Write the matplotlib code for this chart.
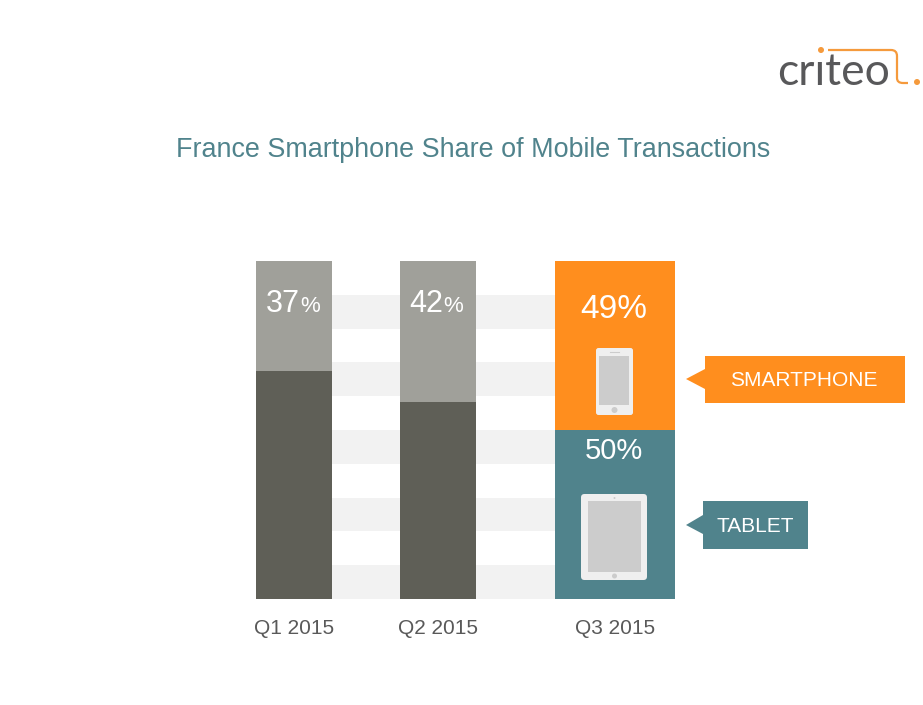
import matplotlib
matplotlib.use("Agg")
import matplotlib.pyplot as plt
from matplotlib.patches import FancyBboxPatch, Rectangle, Polygon, Circle
from matplotlib.path import Path
from matplotlib.patches import PathPatch

plt.rcParams['font.family'] = ['Liberation Sans', 'DejaVu Sans']

title = "France Smartphone Share of Mobile Transactions"
quarters = ["Q1 2015", "Q2 2015", "Q3 2015"]
lower_values = [67.5, 58.3, 50.0]
upper_values = [32.5, 41.7, 50.0]
upper_labels = ["37", "42", "49"]
lower_label_q3 = "50%"
band_starts = [0, 20, 40, 60, 80]
band_height = 10

DARK = "#5F5F57"
LIGHT = "#A0A09A"
ORANGE = "#FF8E1E"
TEAL = "#50838C"
BAND = "#F2F2F2"
DEVICE = "#EFEFEF"
SCREEN = "#CCCCCC"
TEXT = "#595959"

W, H = 923, 705
fig = plt.figure(figsize=(W / 100, H / 100), dpi=100, facecolor="white")

# chart axes: x in px-like units, y in percent
ax = fig.add_axes([256 / W, (H - 599) / H, 419 / W, 338 / H])
ax.set_xlim(256, 675)
ax.set_ylim(0, 100)
centers = [294, 438, 615]
widths = [76, 76, 120]
for s in band_starts:
    ax.barh(s, 419, left=256, height=band_height, align="edge", color=BAND, zorder=1)
lower_colors = [DARK, DARK, TEAL]
upper_colors = [LIGHT, LIGHT, ORANGE]
ax.bar(centers, lower_values, width=widths, color=lower_colors, zorder=2)
ax.bar(centers, upper_values, width=widths, bottom=lower_values, color=upper_colors, zorder=2)
for sp in ax.spines.values():
    sp.set_visible(False)
ax.set_yticks([])
ax.set_xticks(centers)
ax.set_xticklabels(quarters, fontsize=15, color=TEXT)
ax.tick_params(axis="x", length=0, pad=14.5)
ax.patch.set_alpha(0)

# overlay in figure pixels
ov = fig.add_axes([0, 0, 1, 1], zorder=5)
ov.set_xlim(0, W)
ov.set_ylim(H, 0)
ov.axis("off")

ov.text(473, 150, title, ha="center", va="center", fontsize=19.4, color=TEAL)

# percent labels
ov.text(300, 304, upper_labels[0], ha="right", va="center", fontsize=22, color="white")
ov.text(300, 306, "%", ha="left", va="center", fontsize=16, color="white")
ov.text(443, 304, upper_labels[1], ha="right", va="center", fontsize=22, color="white")
ov.text(443, 306, "%", ha="left", va="center", fontsize=16, color="white")
ov.text(614, 309, upper_labels[2] + "%", ha="center", va="center", fontsize=24, color="white")
ov.text(614, 451, lower_label_q3, ha="center", va="center", fontsize=21, color="white")


def rrect(x0, y0, x1, y1, r, color):
    ov.add_patch(FancyBboxPatch((x0 + r, y0 + r), x1 - x0 - 2 * r, y1 - y0 - 2 * r,
                                boxstyle=f"round,pad={r},rounding_size={r}",
                                fc=color, ec="none"))


# phone
rrect(596, 348, 633, 415, 2.5, DEVICE)
ov.add_patch(Rectangle((599, 356), 30, 49, fc=SCREEN, ec="none"))
ov.add_patch(Circle((614.5, 410), 3, fc=SCREEN, ec="none"))
ov.plot([610, 619], [352, 352], color=SCREEN, lw=0.8)

# tablet
rrect(581, 494, 647, 580, 3.5, DEVICE)
ov.add_patch(Rectangle((588, 501), 53, 71, fc=SCREEN, ec="none"))
ov.add_patch(Circle((614.5, 576), 2.5, fc=SCREEN, ec="none"))
ov.add_patch(Circle((614.5, 498), 1, fc=SCREEN, ec="none"))

# callouts
ov.add_patch(Rectangle((705, 356), 200, 47, fc=ORANGE, ec="none"))
ov.add_patch(Polygon([(686, 379), (705, 369), (705, 389)], fc=ORANGE, ec="none"))
ov.text(804, 380.5, "SMARTPHONE", ha="center", va="center", fontsize=15, color="white")
ov.add_patch(Rectangle((703, 501), 105, 48, fc=TEAL, ec="none"))
ov.add_patch(Polygon([(686, 525), (703, 515), (703, 534)], fc=TEAL, ec="none"))
ov.text(755, 526, "TABLET", ha="center", va="center", fontsize=15, color="white")

# logo
LOGO_ORANGE = "#F59A3C"
ov.text(777, 85, "criteo", ha="left", va="baseline", fontsize=32, color="#58585A",
        family="Lato", fontweight="normal")
ov.add_patch(Rectangle((813, 52), 12, 8, fc="white", ec="none", zorder=6))
ov.add_patch(Circle((821, 50), 3, fc=LOGO_ORANGE, ec="none", zorder=7))
ov.add_patch(Circle((917, 82), 3, fc=LOGO_ORANGE, ec="none", zorder=7))
logo_path = Path([(828, 50), (891, 50), (897, 50), (897, 56), (897, 78), (897, 83), (903, 83), (908, 83)],
                 [Path.MOVETO, Path.LINETO, Path.CURVE3, Path.CURVE3, Path.LINETO, Path.CURVE3, Path.CURVE3, Path.LINETO])
ov.add_patch(PathPatch(logo_path, fc="none", ec=LOGO_ORANGE, lw=1.6, zorder=7))

fig.savefig("out.png", dpi=100, facecolor="white")
